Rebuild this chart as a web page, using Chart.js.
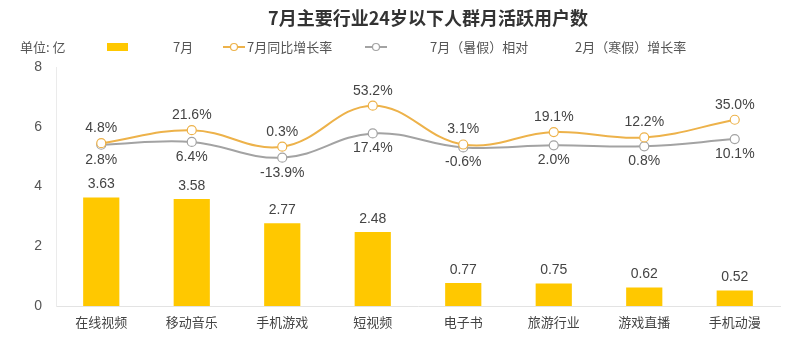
<!DOCTYPE html>
<html>
<head>
<meta charset="utf-8">
<script src="https://cdn.jsdelivr.net/npm/chart.js@4"></script>
<style>
  html, body { margin: 0; padding: 0; background: #fff; }
  #wrap { width: 800px; height: 339px; }
</style>
</head>
<body>
<div id="wrap"><canvas id="chart"></canvas></div>
<script>
// data
const categories = ['在线视频', '移动音乐', '手机游戏', '短视频', '电子书', '旅游行业', '游戏直播', '手机动漫'];
const julyUsers = [3.63, 3.58, 2.77, 2.48, 0.77, 0.75, 0.62, 0.52];      // 亿
const yoyGrowth = [4.8, 21.6, 0.3, 53.2, 3.1, 19.1, 12.2, 35.0];        // %
const vsFebGrowth = [2.8, 6.4, -13.9, 17.4, -0.6, 2.0, 0.8, 10.1];      // %
const yTicks = [0, 2, 4, 6, 8];

const FONT = '"Liberation Sans", "Noto Sans CJK SC", sans-serif';
const BAR = '#FFC800';
const ORANGE = '#EDB24A';
const GREY = '#A3A3A3';
const TEXT = '#444';

// value labels + title + legend drawn by hand
const decorPlugin = {
    id: 'decor',
    afterDatasetsDraw(chart) {
        const ctx = chart.ctx;
        ctx.save();
        ctx.font = '14px ' + FONT;
        ctx.fillStyle = TEXT;
        ctx.textAlign = 'center';
        ctx.textBaseline = 'middle';

        chart.getDatasetMeta(0).data.forEach((el, i) => {
            ctx.fillText(julyUsers[i].toFixed(2), el.x, el.y - 13);
        });
        chart.getDatasetMeta(1).data.forEach((el, i) => {
            ctx.fillText(yoyGrowth[i].toFixed(1) + '%', el.x, el.y - 15);
        });
        chart.getDatasetMeta(2).data.forEach((el, i) => {
            ctx.fillText(vsFebGrowth[i].toFixed(1) + '%', el.x, el.y + 15);
        });

        // title
        ctx.font = 'bold 18px "Noto Sans CJK SC", sans-serif';
        ctx.fillStyle = '#333';
        ctx.fillText('7月主要行业24岁以下人群月活跃用户数', 428, 18);

        // legend row
        const ly = 47;
        ctx.font = '13px "Noto Sans CJK SC", sans-serif';
        ctx.fillStyle = '#555';
        ctx.textAlign = 'left';
        ctx.fillText('单位: 亿', 20, ly);

        ctx.fillStyle = BAR;
        ctx.fillRect(107, ly - 4, 21, 8);
        ctx.fillStyle = '#555';
        ctx.fillText('7月', 173, ly);

        const marker = (x, color) => {
            ctx.strokeStyle = color;
            ctx.lineWidth = 2;
            ctx.beginPath();
            ctx.moveTo(x, ly);
            ctx.lineTo(x + 22, ly);
            ctx.stroke();
            ctx.beginPath();
            ctx.arc(x + 11, ly, 3.5, 0, Math.PI * 2);
            ctx.fillStyle = '#fff';
            ctx.fill();
            ctx.lineWidth = 1.2;
            ctx.stroke();
        };
        marker(223, ORANGE);
        ctx.fillStyle = '#555';
        ctx.fillText('7月同比增长率', 247, ly);
        marker(365, GREY);
        ctx.fillStyle = '#555';
        ctx.fillText('7月（暑假）相对', 430, ly);
        ctx.fillText('2月（寒假）增长率', 575, ly);
        ctx.restore();
    }
};

new Chart(document.getElementById('chart'), {
    type: 'bar',
    data: {
        labels: categories,
        datasets: [
            {
                label: '7月',
                data: julyUsers,
                backgroundColor: BAR,
                barPercentage: 0.4,
                categoryPercentage: 1,
                yAxisID: 'y',
                order: 3,
            },
            {
                type: 'line',
                label: '7月同比增长率',
                data: yoyGrowth,
                yAxisID: 'y2',
                borderColor: ORANGE,
                borderWidth: 2,
                pointBackgroundColor: '#fff',
                pointBorderColor: ORANGE,
                pointBorderWidth: 1.2,
                pointRadius: 4.5,
                tension: 0.4,
                order: 1,
            },
            {
                type: 'line',
                label: '7月（暑假）相对2月（寒假）增长率',
                data: vsFebGrowth,
                yAxisID: 'y2',
                borderColor: GREY,
                borderWidth: 2,
                pointBackgroundColor: '#fff',
                pointBorderColor: GREY,
                pointBorderWidth: 1.2,
                pointRadius: 4.5,
                tension: 0.4,
                order: 2,
            },
        ],
    },
    options: {
        responsive: true,
        maintainAspectRatio: false,
        animation: false,
        layout: { padding: { top: 67, right: 20, left: 0, bottom: 0 } },
        plugins: {
            legend: { display: false },
            tooltip: { enabled: false },
        },
        scales: {
            x: {
                grid: { display: false, drawTicks: false },
                border: { color: '#E3E3E3', width: 1 },
                ticks: {
                    color: TEXT,
                    padding: 8,
                    font: { family: '"Noto Sans CJK SC", sans-serif', size: 13 },
                },
                afterFit(scale) { scale.height = 33; },
            },
            y: {
                min: 0,
                max: 8,
                afterBuildTicks(scale) { scale.ticks = yTicks.map(v => ({ value: v })); },
                grid: { display: false, drawTicks: false },
                border: { color: '#EBEBEB', width: 1 },
                ticks: {
                    color: '#555',
                    padding: 14,
                    font: { family: FONT, size: 14 },
                },
                afterFit(scale) { scale.width = 56; },
            },
            // hidden axis for the two growth-rate lines (in %)
            y2: {
                display: false,
                min: -205,
                max: 103,
            },
        },
    },
    plugins: [decorPlugin],
});
</script>
</body>
</html>
